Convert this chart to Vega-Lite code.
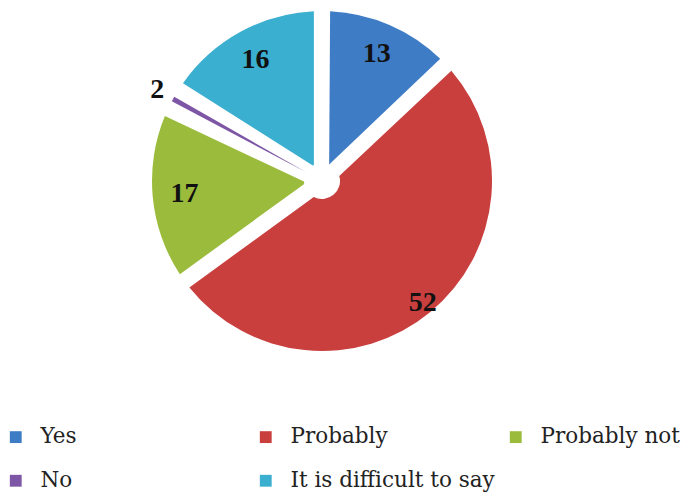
{
  "$schema": "https://vega.github.io/schema/vega-lite/v6.json",
  "width": 644,
  "height": 362,
  "autosize": {"type": "none"},
  "padding": {"left": 0, "top": 0, "right": 46, "bottom": 131},
  "background": "white",
  "data": {
    "values": [
      {"category": "Yes", "value": 13, "idx": 1},
      {"category": "Probably", "value": 52, "idx": 2},
      {"category": "Probably not", "value": 17, "idx": 3},
      {"category": "No", "value": 2, "idx": 4},
      {"category": "It is difficult to say", "value": 16, "idx": 5}
    ]
  },
  "encoding": {
    "theta": {"field": "value", "type": "quantitative", "stack": true},
    "order": {"field": "idx", "type": "quantitative"}
  },
  "layer": [
    {
      "mark": {"type": "arc", "outerRadius": 170, "innerRadius": 18, "padAngle": 0.095},
      "encoding": {
        "color": {
          "field": "category",
          "type": "nominal",
          "sort": ["Yes", "Probably", "Probably not", "No", "It is difficult to say"],
          "scale": {
            "domain": ["Yes", "Probably", "Probably not", "No", "It is difficult to say"],
            "range": ["#3f7cc6", "#c93f3e", "#9bbb3c", "#7d57a5", "#3aafcf"]
          },
          "legend": {
            "title": null,
            "orient": "none",
            "legendX": 5,
            "legendY": 426,
            "direction": "horizontal",
            "columns": 3,
            "gridAlign": "all",
            "columnPadding": 10,
            "rowPadding": 21,
            "symbolType": "square",
            "symbolSize": 140,
            "symbolStrokeWidth": 0,
            "labelFont": "DejaVu Serif",
            "labelFontSize": 21.5,
            "labelColor": "#222222",
            "labelOffset": 14,
            "labelLimit": 300
          }
        }
      }
    },
    {
      "mark": {"type": "text", "radius": 138, "font": "Liberation Serif", "fontWeight": "bold", "fontSize": 28, "color": "#111111"},
      "encoding": {"text": {"condition": {"test": "datum.value != 52 && datum.value != 2", "field": "value", "type": "quantitative"}, "value": ""}}
    },
    {
      "mark": {"type": "text", "radius": 158, "font": "Liberation Serif", "fontWeight": "bold", "fontSize": 28, "color": "#111111"},
      "encoding": {"text": {"condition": {"test": "datum.value == 52", "field": "value", "type": "quantitative"}, "value": ""}}
    },
    {
      "mark": {"type": "text", "radius": 188, "font": "Liberation Serif", "fontWeight": "bold", "fontSize": 28, "color": "#111111"},
      "encoding": {"text": {"condition": {"test": "datum.value == 2", "field": "value", "type": "quantitative"}, "value": ""}}
    }
  ]
}
